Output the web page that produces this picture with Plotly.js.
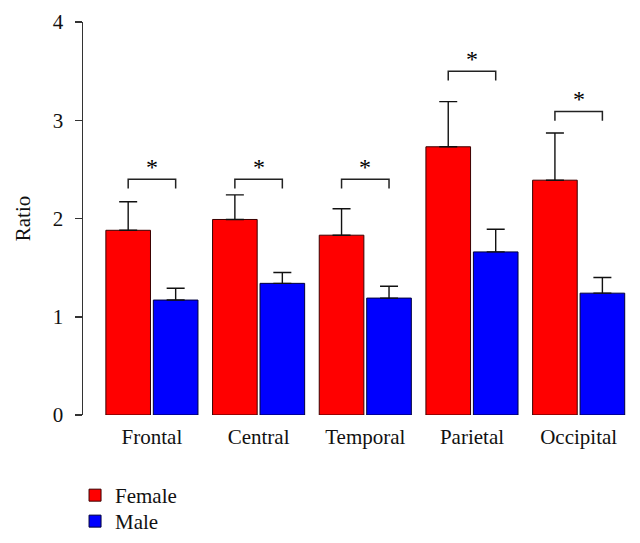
<!DOCTYPE html>
<html>
<head>
<meta charset="utf-8">
<script src="https://cdn.plot.ly/plotly-3.0.1.min.js"></script>
<style>html,body{margin:0;padding:0;background:#fff;}#chart{width:640px;height:543px;}</style>
</head>
<body>
<div id="chart"></div>
<script>
// ---- data ----
const categories = ["Frontal", "Central", "Temporal", "Parietal", "Occipital"];
const female = [1.88, 1.99, 1.83, 2.73, 2.39];
const femaleErr = [0.29, 0.25, 0.27, 0.46, 0.48];
const male = [1.17, 1.34, 1.19, 1.66, 1.24];
const maleErr = [0.12, 0.11, 0.12, 0.23, 0.16];
const sigBracketY = [2.40, 2.40, 2.40, 3.50, 3.09];
const sigLabel = ["*", "*", "*", "*", "*"];
const yTicks = [0, 1, 2, 3, 4];

// ---- layout params ----
const bargap = 0.11, bargroupgap = 0.06;
const off = (1 - bargap) / 4;          // bar centre offset from category centre
const legDrop = 0.095;
const FONT = "Liberation Serif, Times New Roman, serif";

const idx = categories.map((_, i) => i);

const traces = [
  {
    type: "bar", name: "Female", x: idx, y: female, legend: "legend",
    marker: {color: "#ff0000", line: {color: "#3a0000", width: 1}},
    error_y: {type: "data", symmetric: false, array: femaleErr, arrayminus: female.map(() => 0),
              color: "#111", thickness: 1.4, width: 9}
  },
  {
    type: "bar", name: "Male", x: idx, y: male, legend: "legend2",
    marker: {color: "#0000ff", line: {color: "#00003a", width: 1}},
    error_y: {type: "data", symmetric: false, array: maleErr, arrayminus: male.map(() => 0),
              color: "#111", thickness: 1.4, width: 9}
  }
];

// significance brackets
const bx = [], by = [];
idx.forEach(i => {
  const y = sigBracketY[i];
  bx.push(i - off, i - off, i + off, i + off, null);
  by.push(y - legDrop, y, y, y - legDrop, null);
});
traces.push({
  type: "scatter", mode: "lines", x: bx, y: by, showlegend: false, hoverinfo: "skip",
  line: {color: "#222", width: 1.5}
});

const annotations = idx.map(i => ({
  x: i, y: sigBracketY[i], xref: "x", yref: "y", text: sigLabel[i],
  showarrow: false, yanchor: "bottom", yshift: -3,
  font: {family: FONT, size: 24, color: "#000"}
}));

const legendBase = {
  xanchor: "left", yanchor: "top", orientation: "v",
  font: {family: FONT, size: 21, color: "#111"}, bgcolor: "rgba(0,0,0,0)"
};

const layout = {
  width: 640, height: 543,
  margin: {l: 83, r: 8, t: 22, b: 128, autoexpand: false},
  paper_bgcolor: "#fff", plot_bgcolor: "#fff",
  barmode: "group", bargap: bargap, bargroupgap: bargroupgap,
  font: {family: FONT, size: 21, color: "#111"},
  xaxis: {
    range: [-0.646, 4.5], tickvals: idx, ticktext: categories,
    showline: false, showgrid: false, zeroline: false, ticks: "",
    ticklabelstandoff: 7, tickfont: {family: FONT, size: 21, color: "#111"}
  },
  yaxis: {
    range: [0, 4], tickvals: yTicks, showline: true, linecolor: "#333", linewidth: 1.5,
    ticks: "outside", ticklen: 7, tickwidth: 1.5, tickcolor: "#333",
    showgrid: false, zeroline: false, ticklabelstandoff: 7,
    tickfont: {family: FONT, size: 21, color: "#111"},
    title: {text: "Ratio", font: {family: FONT, size: 21, color: "#111"}, standoff: 16}
  },
  legend: Object.assign({}, legendBase, {x: -0.0145, y: -0.1527}),
  legend2: Object.assign({}, legendBase, {x: -0.0145, y: -0.2188}),
  annotations: annotations,
  showlegend: true
};

Plotly.newPlot("chart", traces, layout, {displayModeBar: false, staticPlot: true});
</script>
</body>
</html>
